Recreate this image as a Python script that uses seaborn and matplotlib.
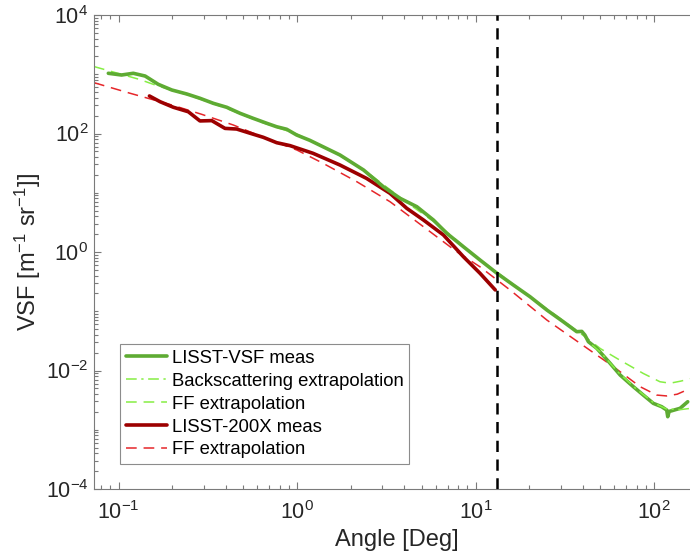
import numpy as np
import pandas as pd
import matplotlib
matplotlib.use("Agg")
import matplotlib.pyplot as plt
import matplotlib.ticker as mticker
from matplotlib.lines import Line2D
import seaborn as sns

# ---------------- data ----------------
vsf_angle = [0.0877, 0.104, 0.121, 0.141, 0.167, 0.199, 0.241, 0.286, 0.340, 0.404,
             0.480, 0.569, 0.676, 0.769, 0.875, 0.995, 1.18, 1.74, 2.36, 3.05,
             3.78, 4.69, 5.81, 6.90, 8.55, 10.6, 13.2, 16.3, 20.2, 25.1,
             31.0, 36.9, 39.4, 41.0, 42.9, 47.8, 56.8, 64.6, 76.6, 87.1,
             99.1, 110.4, 117.8, 119.4, 121.6, 125.6, 140.0, 154.5]
vsf_meas = [1038, 971, 1038, 933, 676, 542, 465, 393, 323, 277,
            219, 180, 149, 130, 118, 94.4, 76.7, 43.4, 24.2, 12.6,
            8.05, 5.82, 3.47, 2.07, 1.23, 0.733, 0.437, 0.277, 0.176, 0.105,
            0.0667, 0.0452, 0.0457, 0.0397, 0.0306, 0.0237, 0.0132, 0.00839, 0.00533, 0.00385,
            0.00279, 0.00245, 0.00215, 0.00166, 0.00204, 0.00209, 0.00230, 0.00297]

bs_angle = [45.0, 50.1, 63.1, 79.4, 100.0, 117.5, 141.3, 180.0]
bs_extrap = [0.0270, 0.0204, 0.00933, 0.00490, 0.00282, 0.00224, 0.00219, 0.00240]

vsf_ff_angle = [0.0729, 0.132, 0.167, 0.251, 0.398, 0.631, 1.0, 1.585, 2.51, 3.98,
                6.31, 10.0, 15.85, 25.1, 39.8, 50.1, 63.1, 87.1, 108.0, 123.0, 141.0, 180.0]
vsf_ff = [1349, 813, 631, 437, 269, 155, 97.7, 50.1, 21.4, 7.41,
          2.75, 0.851, 0.302, 0.110, 0.0398, 0.0234, 0.0155, 0.00891, 0.00646, 0.00610, 0.00661, 0.00794]

lisst_angle = [0.149, 0.171, 0.203, 0.246, 0.286, 0.333, 0.395, 0.459, 0.546, 0.647,
               0.769, 0.914, 1.23, 1.74, 2.45, 3.32, 4.12, 5.11, 6.61, 8.55, 10.6, 12.9]
lisst_meas = [430, 344, 277, 233, 163, 165, 122, 119, 101, 86.3,
              70.0, 62.4, 46.3, 29.4, 17.5, 9.77, 5.46, 3.47, 1.94, 0.834, 0.437, 0.229]

lisst_ff_angle = [0.0729, 0.116, 0.1995, 0.292, 0.440, 0.631, 1.0, 1.40, 2.16, 3.32,
                  5.11, 7.85, 10.6, 15.6, 25.1, 38.5, 59.2, 83.6, 103.5, 117.8, 134.9, 152.4, 180.0]
lisst_ff = [721, 478, 302, 211, 139, 89.1, 52.5, 31.4, 15.4, 7.06,
            2.67, 1.01, 0.562, 0.229, 0.0711, 0.0288, 0.0116, 0.00533, 0.00385, 0.00372, 0.00398, 0.00468, 0.00562]

cutoff_angle = [13.2]

labels = ["LISST-VSF meas", "Backscattering extrapolation", "FF extrapolation",
          "LISST-200X meas", "FF extrapolation"]

# ---------------- style ----------------
sns.set_style("ticks")
plt.rcParams['font.family'] = ['Liberation Sans', 'DejaVu Sans']
plt.rcParams['mathtext.fontset'] = 'custom'
plt.rcParams['mathtext.rm'] = 'Liberation Sans'
plt.rcParams['mathtext.it'] = 'Liberation Sans:italic'
plt.rcParams['mathtext.bf'] = 'Liberation Sans:bold'

C_GREEN = '#5eab33'
C_LGREEN = '#86ee44'
C_DRED = '#9c0000'
C_RED = '#e6262a'
AX_COL = '#7a7a7a'
TXT_COL = '#262626'

W, H = 690, 559
fig = plt.figure(figsize=(W / 100, H / 100), dpi=100)

x_lo, x_hi = 0.0729, 180.0
px_left, px_right = 94, 297 + 178.5 * np.log10(x_hi)
px_top, px_bot = 15, 489
ax = fig.add_axes([px_left / W, (H - px_bot) / H,
                   (px_right - px_left) / W, (px_bot - px_top) / H])

df_vsf = pd.DataFrame({'angle': vsf_angle, 'vsf': vsf_meas})
df_bs = pd.DataFrame({'angle': bs_angle, 'vsf': bs_extrap})
df_vff = pd.DataFrame({'angle': vsf_ff_angle, 'vsf': vsf_ff})
df_l = pd.DataFrame({'angle': lisst_angle, 'vsf': lisst_meas})
df_lff = pd.DataFrame({'angle': lisst_ff_angle, 'vsf': lisst_ff})

ax.set_xscale('log')
ax.set_yscale('log')

sns.lineplot(data=df_lff, x='angle', y='vsf', ax=ax, color=C_RED, linewidth=1.1,
             linestyle=(0, (7, 4.5)), estimator=None, sort=False, legend=False, zorder=2)
sns.lineplot(data=df_vff, x='angle', y='vsf', ax=ax, color=C_LGREEN, linewidth=1.1,
             linestyle=(0, (7, 4.5)), estimator=None, sort=False, legend=False, zorder=2)
sns.lineplot(data=df_l, x='angle', y='vsf', ax=ax, color=C_DRED, linewidth=2.6,
             estimator=None, sort=False, legend=False, zorder=3)
sns.lineplot(data=df_vsf, x='angle', y='vsf', ax=ax, color=C_GREEN, linewidth=2.6,
             estimator=None, sort=False, legend=False, zorder=3)
sns.lineplot(data=df_bs, x='angle', y='vsf', ax=ax, color=C_LGREEN, linewidth=1.1,
             linestyle=(0, (7, 3, 1.5, 3)), estimator=None, sort=False, legend=False, zorder=4)

ax.axvline(cutoff_angle[0], color='black', linewidth=1.8, linestyle=(0, (4.5, 3)), zorder=5)

ax.set_xlim(x_lo, x_hi)
ax.set_ylim(1e-4, 1e4)

# ticks
ax.xaxis.set_major_locator(mticker.LogLocator(base=10, numticks=20))
ax.xaxis.set_minor_locator(mticker.LogLocator(base=10, subs=np.arange(2, 10), numticks=20))
ax.yaxis.set_major_locator(mticker.FixedLocator([1e-4, 1e-2, 1e0, 1e2, 1e4]))
ax.yaxis.set_minor_locator(mticker.LogLocator(base=10, subs=np.arange(1, 10), numticks=20))
ax.xaxis.set_major_formatter(mticker.LogFormatterSciNotation())
ax.yaxis.set_major_formatter(mticker.LogFormatterSciNotation())
ax.xaxis.set_minor_formatter(mticker.NullFormatter())
ax.yaxis.set_minor_formatter(mticker.NullFormatter())
ax.tick_params(which='both', direction='in', top=True, right=True, color=AX_COL,
               labelsize=15.5, labelcolor=TXT_COL, width=0.8)
ax.tick_params(which='major', length=5)
ax.tick_params(which='minor', length=3)
ax.tick_params(axis='x', which='major', pad=9)
ax.tick_params(axis='y', which='major', pad=4)
for s in ax.spines.values():
    s.set_color(AX_COL)
    s.set_linewidth(0.8)

ax.set_xlabel('Angle [Deg]', fontsize=17, color=TXT_COL, labelpad=3)
ax.set_ylabel('VSF [m$^{-1}$ sr$^{-1}$]]', fontsize=17, color=TXT_COL, labelpad=2)

handles = [
    Line2D([], [], color=C_GREEN, linewidth=2.6),
    Line2D([], [], color=C_LGREEN, linewidth=1.1, linestyle=(0, (7, 3, 1.5, 3))),
    Line2D([], [], color=C_LGREEN, linewidth=1.1, linestyle=(0, (7, 4.5))),
    Line2D([], [], color=C_DRED, linewidth=2.6),
    Line2D([], [], color=C_RED, linewidth=1.1, linestyle=(0, (7, 4.5))),
]
leg = ax.legend(handles, labels, loc='lower left',
                bbox_to_anchor=((120 - px_left) / (px_right - px_left), (px_bot - 464) / (px_bot - px_top)),
                borderaxespad=0, fontsize=13.3, frameon=True, fancybox=False,
                handlelength=2.25, handletextpad=0.27, labelspacing=0.32,
                borderpad=0.3, framealpha=1)
leg.get_frame().set_edgecolor('#8c8c8c')
leg.get_frame().set_linewidth(0.8)
for t in leg.get_texts():
    t.set_color('black')

fig.savefig('out.png', dpi=100)
